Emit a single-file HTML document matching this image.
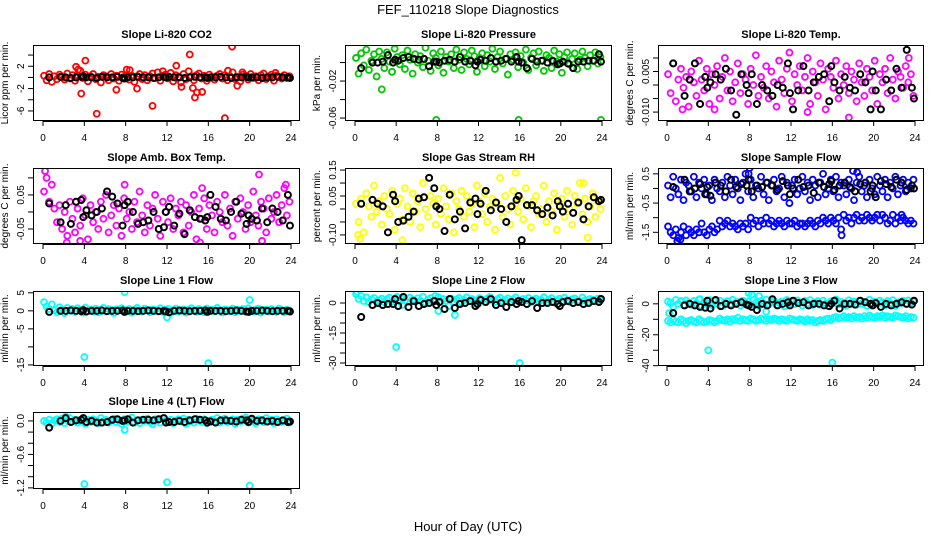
<!DOCTYPE html>
<html><head><meta charset="utf-8"><style>
html,body{margin:0;padding:0;background:#fff;}
svg{display:block;font-family:"Liberation Sans",sans-serif;}
</style></head><body>
<svg id="chart" width="936" height="540" viewBox="0 0 936 540" xmlns="http://www.w3.org/2000/svg">
<rect width="936" height="540" fill="#fff"/>
<text x="468" y="14" text-anchor="middle" font-size="13">FEF_110218  Slope Diagnostics</text>
<text x="468" y="531" text-anchor="middle" font-size="13">Hour of Day (UTC)</text>
</svg>
<script>
const hours = [0.1,0.35,0.6,0.85,1.1,1.35,1.6,1.85,2.1,2.35,2.6,2.85,3.1,3.35,3.6,3.85,4.1,4.35,4.6,4.85,5.1,5.35,5.6,5.85,6.1,6.35,6.6,6.85,7.1,7.35,7.6,7.85,8.1,8.35,8.6,8.85,9.1,9.35,9.6,9.85,10.1,10.35,10.6,10.85,11.1,11.35,11.6,11.85,12.1,12.35,12.6,12.85,13.1,13.35,13.6,13.85,14.1,14.35,14.6,14.85,15.1,15.35,15.6,15.85,16.1,16.35,16.6,16.85,17.1,17.35,17.6,17.85,18.1,18.35,18.6,18.85,19.1,19.35,19.6,19.85,20.1,20.35,20.6,20.85,21.1,21.35,21.6,21.85,22.1,22.35,22.6,22.85,23.1,23.35,23.6,23.85];
const blackHours = [0.6,1.7,2.2,2.7,3.2,3.7,3.9,4.2,4.7,5.2,5.7,6.2,6.7,7.2,7.7,7.9,8.2,8.7,9.2,9.7,10.2,10.7,11.2,11.7,11.9,12.2,12.7,13.2,13.7,14.2,14.7,15.2,15.7,15.9,16.2,16.7,17.2,17.7,18.2,18.7,19.2,19.7,19.9,20.2,20.7,21.2,21.7,22.2,22.7,23.2,23.7,23.9];
const xTicks = [0,4,8,12,16,20,24];

const co2Values = [0.3,-0.5,0.6,-0.8,0.2,-0.3,0.5,0.1,-0.4,0.7,-0.2,0.4,-0.6,0.3,1.2,-0.1,0.5,-0.7,0.2,0.6,-0.3,0.1,-0.9,0.4,0.2,-0.5,0.6,-0.2,0.3,-0.6,0.5,0.1,1.4,-0.4,0.3,-0.8,0.2,0.6,-0.3,0.4,-0.5,0.2,0.7,-0.1,0.9,-0.6,0.3,0.5,-0.2,0.8,-0.7,0.4,0.1,-0.9,0.6,-0.3,1.1,0.2,-0.5,0.4,0.7,-0.2,0.3,-0.6,0.5,0.1,-0.4,0.3,0.6,-0.2,0.4,-0.5,0.2,0.9,-0.3,0.1,-0.7,0.5,0.3,-0.4,0.6,-0.1,0.2,-0.5,0.4,0.7,-0.3,0.2,0.5,-0.6,0.3,0.1,-0.2,0.4,-0.1,0.2];
const co2OutHours = [3.2,3.4,3.7,4.1,5.2,7.1,8.4,9.1,10.6,11.6,12.9,13.4,14.2,14.5,14.7,14.9,15.4,17.6,17.9,18.3,18.8,19.3,22.5];
const co2OutValues = [1.9,1.4,-2.9,3.0,-6.5,-2.2,1.3,-2.0,-5.1,1.1,2.1,-1.7,4.1,-1.9,-3.6,-2.7,-2.6,-7.3,1.2,5.5,-1.5,0.9,0.8];
const co2Black = [0,0.1,0,-0.1,0,0.1,0.2,0,0,-0.1,0.1,0,0,0.1,-0.1,-0.2,0,0,0.1,0,0,-0.1,0,0.1,0,0.1,0,0,-0.1,0,0.1,0,0,-0.1,0,0,0.1,0,-0.1,0,0,0.1,0,0,0,-0.1,0,0,0.1,0,0,-0.1];

const presValues = [0.005,-0.012,0.010,-0.003,0.014,-0.008,0.002,0.009,-0.015,0.012,0.004,-0.006,0.011,0.001,-0.010,0.015,0.006,-0.002,0.008,-0.007,0.013,0.003,-0.012,0.009,0.000,0.007,-0.005,0.016,0.002,-0.009,0.010,0.005,-0.003,0.012,-0.011,0.006,0.001,0.009,-0.006,0.014,0.003,-0.008,0.011,0.004,-0.002,0.013,0.007,-0.010,0.005,0.010,-0.004,0.008,0.001,0.015,-0.007,0.006,0.012,-0.001,0.004,-0.013,0.009,0.003,0.011,-0.005,0.007,0.000,0.014,-0.008,0.005,0.010,-0.003,0.012,0.002,-0.009,0.008,0.005,-0.006,0.013,0.001,0.009,-0.011,0.006,0.011,-0.002,0.004,0.010,-0.007,0.003,0.012,0.005,-0.004,0.008,0.002,0.011,-0.001,0.006];
const presOutHours = [2.6,7.9,15.9,23.9];
const presOutValues = [-0.029,-0.062,-0.062,-0.062];
const presBlack = [-0.006,0,0,0.001,0.008,0,0.003,0.002,0.005,0.006,0.004,0.003,0.004,-0.004,0.001,0.001,0,0.002,0.003,0.001,0.006,0.001,0.002,-0.003,0.001,0.003,0.002,0.005,0.001,0.002,0.004,0.001,0.006,0.001,0,-0.006,0.004,0.001,0.002,0,0.002,-0.002,-0.001,0.001,-0.001,-0.006,0.001,0.001,0.002,0.002,0.009,0.001];

const tempValues = [0.004,-0.003,0.008,-0.006,0.002,0.006,-0.001,0.003,-0.008,0.005,0.001,-0.004,0.009,0.002,-0.002,0.006,-0.007,0.004,0.000,0.007,-0.005,0.003,0.010,-0.002,0.005,-0.006,0.001,0.008,-0.003,0.004,0.002,-0.007,0.006,0.000,0.011,-0.004,0.003,-0.001,0.007,-0.005,0.005,0.001,-0.008,0.009,0.002,-0.003,0.006,0.012,-0.006,0.004,0.000,0.007,-0.002,0.003,0.010,-0.007,0.005,0.001,-0.004,0.008,0.002,-0.009,0.006,0.003,-0.001,0.009,-0.005,0.004,0.000,0.007,-0.003,0.005,0.002,-0.006,0.008,0.001,-0.004,0.006,0.003,-0.002,0.009,-0.007,0.004,0.001,0.006,-0.003,0.010,0.002,-0.005,0.005,0.003,-0.001,0.007,0.001,0.004,-0.004];
const tempOutHours = [1.5,4.6,13.6,17.6,23.4];
const tempOutValues = [-0.009,-0.009,-0.010,-0.012,0.010];
const tempBlack = [0.008,-0.004,0.002,0.008,-0.007,0.003,-0.001,0.001,0.004,0.002,0.006,-0.002,-0.011,0.004,0,-0.003,0.004,-0.007,0,-0.002,-0.004,0,-0.001,0.008,-0.003,-0.009,-0.002,0.007,-0.002,0.001,0.003,0.004,-0.006,0.007,0.001,-0.002,0.003,-0.001,-0.002,0.004,0.001,-0.009,0.005,-0.002,-0.009,0.002,-0.002,0.006,-0.001,0.013,-0.001,-0.005];

const ambValues = [0.06,0.10,0.03,0.08,0.01,-0.03,0.02,-0.05,0.00,-0.07,0.03,-0.02,-0.06,0.01,-0.04,0.04,-0.01,-0.08,0.02,-0.03,0.00,-0.05,0.03,-0.02,0.05,-0.06,-0.01,0.02,-0.04,0.01,-0.07,0.04,-0.02,0.00,-0.05,0.03,-0.03,0.06,-0.01,-0.06,0.02,-0.04,0.01,0.05,-0.02,-0.07,0.03,0.00,-0.03,0.04,-0.05,0.01,-0.01,0.03,-0.06,0.02,-0.04,0.00,0.05,-0.08,0.01,-0.02,0.04,-0.05,0.02,-0.01,-0.06,0.03,0.00,-0.03,0.05,-0.04,0.01,-0.07,0.03,-0.02,0.04,0.00,-0.05,0.02,-0.03,0.06,-0.01,-0.04,0.03,0.01,-0.06,0.04,-0.02,0.00,0.05,-0.03,0.02,0.07,-0.01,0.03];
const ambOutHours = [0.2,7.9,15.4,20.9,23.5,2.3,3.6,15.2,21.2];
const ambOutValues = [0.12,0.08,0.07,0.11,0.08,-0.09,-0.085,-0.09,-0.085];
const ambBlack = [0.025,-0.03,0.02,-0.035,0.03,0.035,-0.015,0.005,-0.01,0,0.01,0.06,0.045,0.025,-0.04,0.02,0.03,0,-0.035,-0.03,-0.025,0,-0.05,-0.045,0,0.015,-0.04,-0.005,-0.065,0.005,-0.015,-0.02,-0.025,-0.015,0.05,0.015,-0.02,-0.025,0,0.03,-0.005,-0.035,-0.01,-0.02,-0.025,0.01,-0.03,0.01,0,-0.025,0.05,-0.04];

const rhValues = [0.02,-0.05,0.04,-0.09,0.06,0.01,-0.03,0.09,-0.01,0.03,-0.06,0.05,0.00,-0.02,0.07,-0.08,0.02,0.04,-0.04,0.08,0.01,-0.05,0.06,-0.01,0.03,-0.07,0.10,0.00,-0.03,0.05,0.02,-0.06,0.04,-0.02,0.08,0.01,-0.04,0.06,-0.09,0.03,0.00,0.07,-0.03,0.05,-0.01,0.02,-0.07,0.09,0.03,-0.02,0.06,-0.05,0.01,0.04,-0.08,0.02,0.12,-0.03,0.05,0.00,-0.06,0.07,0.02,-0.01,0.04,-0.04,0.08,0.01,-0.07,0.03,0.05,-0.02,0.00,0.09,-0.05,0.03,-0.01,0.06,-0.08,0.02,0.04,-0.03,0.07,0.00,-0.06,0.05,0.02,0.10,-0.02,0.04,-0.05,0.01,0.06,-0.03,0.03,0.00];
const rhOutHours = [0.3,0.5,4.6,15.6,22.2,22.6];
const rhOutValues = [-0.10,-0.115,-0.12,0.14,0.10,-0.11];
const rhBlack = [0.02,0.035,0.02,0.01,-0.09,0.055,0.03,-0.05,-0.045,-0.03,-0.01,0.04,0.045,0.12,0.08,0.01,0,-0.085,0.055,-0.04,-0.01,-0.075,0.025,0.04,-0.02,0.02,0.07,-0.005,0.025,0,-0.05,0.01,0.035,0.05,-0.12,0.015,0.015,-0.005,-0.02,0.005,-0.025,0.03,0.01,-0.01,0.02,-0.015,0.025,-0.04,0.01,0.045,0.03,0.035];

const flowUpper = [0.1,-0.3,0.4,0.0,-0.2,0.3,-0.4,0.2,0.1,-0.1,0.4,-0.3,0.2,0.0,0.3,-0.2,0.1,-0.4,0.3,0.0,-0.1,0.2,-0.3,0.4,0.1,-0.2,0.3,0.0,-0.4,0.2,0.5,-0.1,0.3,-0.3,0.1,0.0,0.4,-0.2,0.2,-0.4,0.1,0.3,-0.1,0.0,0.4,-0.3,0.2,-0.5,0.1,0.3,-0.2,0.0,0.4,-0.1,0.2,-0.4,0.3,0.1,-0.3,0.2,0.5,-0.2,0.0,0.3,-0.1,0.4,-0.3,0.2,0.1,-0.2,0.3,0.0,-0.4,0.2,0.4,-0.1,0.1,-0.3,0.3,0.0,-0.2,0.4,0.1,-0.1,0.3,-0.3,0.2,0.0,0.4,-0.2,0.1,0.3,-0.1,0.2,0.0,0.3];
const flowLower = [-1.3,-1.5,-1.6,-1.4,-1.7,-1.5,-1.3,-1.6,-1.4,-1.5,-1.6,-1.4,-1.5,-1.2,-1.5,-1.6,-1.4,-1.3,-1.5,-1.4,-1.1,-1.3,-1.2,-1.1,-1.3,-1.2,-1.3,-1.4,-1.2,-1.3,-1.2,-1.4,-1.0,-1.2,-1.1,-1.3,-1.1,-1.2,-1.0,-1.2,-1.1,-1.3,-1.2,-1.1,-1.2,-1.3,-1.1,-1.2,-1.2,-1.1,-1.3,-1.2,-1.2,-1.3,-1.2,-1.1,-1.2,-1.3,-1.1,-1.2,-1.0,-1.1,-1.2,-1.0,-1.1,-1.2,-1.0,-1.4,-0.9,-1.1,-1.0,-1.2,-1.0,-0.9,-1.1,-1.0,-1.1,-0.9,-1.0,-1.1,-1.0,-0.9,-1.1,-0.9,-1.0,-1.2,-1.1,-0.9,-1.2,-1.0,-1.1,-1.0,-1.1,-1.2,-1.1,-1.2];
const flowOutHours = [1.0,1.3,7.9,8.0,18.0,18.4,16.9,22.7];
const flowOutValues = [-1.8,-1.75,0.5,0.7,0.6,0.55,-1.6,-0.9];
const flowBlack = [0.05,0.3,-0.1,0,0.15,-0.2,0.05,-0.25,0.2,0.1,-0.1,0.3,0.05,0.15,0.1,0.3,-0.1,0.1,0.05,0.2,0.1,-0.05,0.25,0.1,-0.2,0,0.3,0.05,0.1,-0.15,0.2,0.05,0.15,0.25,-0.05,0.1,0.2,0.05,-0.1,0.15,0.2,-0.1,0.1,-0.3,0.25,0.15,0.05,0.3,0.2,-0.05,0.1,0];

const line1Values = [2.4,1.2,0.5,1.8,0.2,-0.4,1.0,0.3,-0.6,0.8,0.1,0.5,-0.3,0.7,0.2,-0.5,0.9,0.0,0.4,-0.2,0.6,-0.4,0.3,0.8,-0.1,0.5,0.2,-0.6,0.4,0.1,0.7,-0.3,0.2,0.5,-0.5,0.3,0.8,0.0,-0.2,0.6,0.1,-0.4,0.4,0.2,-0.1,0.7,-0.3,0.3,0.5,-0.6,0.2,0.6,-0.2,0.0,0.4,-0.5,0.3,0.7,0.1,-0.3,0.5,0.2,-0.4,0.6,0.0,0.3,-0.2,0.8,0.1,-0.5,0.4,0.2,-0.1,0.6,-0.4,0.3,0.0,0.5,-0.3,0.7,0.1,-0.2,0.4,0.6,-0.5,0.2,0.3,-0.1,0.5,0.0,-0.3,0.6,0.2,-0.4,0.3,0.1];
const line1OutHours = [4.0,7.9,12.0,16.0,20.0];
const line1OutValues = [-12.8,5.2,-1.8,-14.5,3.0];
const line1Black = [-0.3,0,0,0.1,0,-0.1,0.2,-0.2,0,0,0.1,-0.1,0,0,0.1,-0.3,0,0,-0.1,0,0.1,0,-0.1,0,-0.2,-0.4,0,0.1,0,-0.1,0,0,0.1,-0.3,0,0,0,-0.1,0,0.1,0,-0.2,-0.3,0,0,0.1,0,-0.1,0,0,0,-0.2];

const line2Values = [4.5,2.0,3.5,1.0,2.8,0.5,1.8,2.5,0.8,1.5,2.2,0.3,1.9,2.7,0.6,1.4,3.0,0.9,2.1,1.2,0.4,2.6,1.6,0.7,2.3,1.1,3.2,0.2,1.7,2.4,0.8,1.3,2.9,0.5,2.0,1.0,-1.5,2.2,0.6,1.8,2.5,0.3,1.5,2.8,0.9,2.0,1.2,0.4,2.4,1.6,0.7,2.1,3.0,1.1,0.5,1.9,2.6,0.8,1.4,2.3,0.2,1.7,2.8,1.0,0.6,2.0,1.3,2.5,0.4,1.8,2.2,0.9,1.5,2.9,0.3,1.6,2.4,0.7,1.2,2.1,0.8,2.6,1.4,0.5,1.9,2.3,1.0,0.6,2.7,1.3,0.4,2.0,1.6,0.8,2.2,1.1];
const line2OutHours = [4.0,16.0,7.8,8.1,9.7,4.6,0.2];
const line2OutValues = [-22,-30,3.5,-4,-6,-1,5.5];
const line2Black = [-7,-1,0,-1,-0.5,-0.5,2,-1.5,3,-2,1,-1.5,-0.5,0,1,-1,0.5,-3,2,-2.5,-0.5,0,1,-1.5,-0.5,1.5,0.5,2,-1,0,-2,0.5,-0.5,1,0.5,-0.5,1,-2.5,0,0,0.5,-0.5,-1.5,0.5,1,0,0.5,-0.5,0,1,0.5,2];

const line3Upper = [1.5,0.5,-2,2.5,0.0,1.8,-1.0,2.2,0.6,-0.5,1.9,0.3,2.8,-1.2,1.0,0.4,2.4,-0.8,1.6,0.0,2.1,-1.5,0.9,1.7,-0.3,2.6,0.5,1.2,-1.0,2.0,0.2,1.4,-0.6,2.3,0.8,-1.3,1.8,0.1,2.7,-0.4,1.1,2.0,-0.9,0.6,1.5,-1.6,2.5,0.3,1.3,-0.2,2.2,0.7,-1.1,1.9,0.4,2.4,-0.7,1.0,1.7,-0.5,2.1,0.2,-1.4,1.6,0.9,2.8,-0.3,1.2,0.5,-1.0,2.3,0.8,1.4,-0.6,2.0,0.1,1.1,-1.2,2.6,0.6,1.3,-0.4,2.1,0.9,-0.8,1.8,0.3,2.4,-1.3,1.0,0.5,1.9,-0.2,2.2,0.7,1.4];
const line3Lower = [-11,-12,-10.5,-11.5,-12,-10,-11,-12.5,-11,-10.5,-11.5,-12,-10,-11,-12,-11.5,-10.5,-11,-12,-11,-9.5,-10.5,-11,-10,-11.5,-10,-10.5,-9,-11,-10,-10.5,-11,-9.5,-10,-11,-10.5,-9.5,-10,-11,-10,-10.5,-9.5,-10,-11,-10,-10.5,-11,-9.5,-10,-10.5,-11,-10,-10.5,-11.5,-10,-11,-10.5,-12,-11,-10.5,-11,-10,-9.5,-10.5,-9,-8.5,-9.5,-9,-8,-9,-8.5,-9.5,-8,-9,-8.5,-9.5,-8,-9,-7.5,-8.5,-9,-8,-8.5,-7.5,-9,-8,-8.5,-9,-7.5,-8,-8.5,-9,-8,-9.5,-8.5,-9];
const line3OutHours = [4.0,16.0,0.2,7.9,8.2,8.9,9.6,3.2];
const line3OutValues = [-30,-38,-6,7,6,5,-5,3];
const line3Black = [-6,-1,0,-1,-2,-2.5,2,-3,2.5,-1.5,0,-1,0,1,-0.5,-1,-2,-4,0,-1,3,-1,0,1,-1,2,0.5,1,-1,0,0,-1,-1.5,0,2,-3,0,0,-0.5,2,1,0,-1,0.5,-2,0,-1,0,1,0,-0.5,2];

const line4Values = [0.00,-0.03,0.02,-0.05,0.01,0.03,-0.02,0.04,-0.04,0.01,0.05,-0.01,0.02,-0.03,0.00,0.04,-0.05,0.02,-0.02,0.03,0.01,-0.04,0.05,-0.01,0.02,-0.03,0.00,0.04,-0.02,0.01,-0.05,0.03,-0.01,0.02,0.06,-0.03,0.01,-0.04,0.02,0.00,0.04,-0.02,-0.06,0.03,0.01,-0.03,0.05,0.00,-0.02,0.02,-0.04,0.01,0.03,-0.01,0.04,-0.05,0.02,0.00,-0.03,0.04,0.01,-0.02,0.03,-0.04,0.00,0.02,-0.01,0.05,-0.03,0.01,0.04,-0.02,0.00,0.03,-0.05,0.02,-0.01,0.04,0.06,-0.03,0.02,0.00,-0.04,0.03,0.01,-0.02,0.05,-0.01,0.02,-0.04,0.03,0.00,-0.02,0.01,0.04,-0.03];
const line4OutHours = [4.0,12.0,20.0,7.9,2.2];
const line4OutValues = [-1.13,-1.1,-1.16,-0.16,0.08];
const line4Black = [-0.12,0,0.05,-0.02,0.01,0.02,0.05,-0.02,0,-0.03,-0.03,-0.02,0.02,0.03,0,0.01,0.03,-0.03,0.01,0.02,0.02,0.01,0.03,0.05,-0.03,-0.02,-0.02,0,-0.02,0.01,0.03,0.02,0.01,-0.03,-0.01,-0.03,0.01,0.01,0,-0.01,0.02,0.01,-0.02,0.04,0,0.01,-0.01,0,-0.02,0.01,-0.02,-0.01];

const NS = 'http://www.w3.org/2000/svg';
const svg = document.getElementById('chart');
function mk(tag, attrs, parent) {
  const e = document.createElementNS(NS, tag);
  for (const k in attrs) e.setAttribute(k, attrs[k]);
  (parent || svg).appendChild(e);
  return e;
}
const cols = [{l:33,r:300,x0:43,x24:291},{l:345,r:612,x0:355,x24:602},{l:658,r:924,x0:667,x24:915}];
const rows = [{t:45,b:121},{t:168,b:244},{t:291,b:366},{t:412,b:489}];

const panels = [
 {key:'co2',title:'Slope Li-820 CO2',ylab:'Licor ppm per min.',c:0,r:0,top:5.8,bot:-7.8,ticks:[4,2,0,-2,-4,-6],labels:{'2':'2','-2':'-2','-6':'-6'},color:'#ff0000',series:[co2Values],oh:co2OutHours,ov:co2OutValues,black:co2Black},
 {key:'pressure',title:'Slope Li-820 Pressure',ylab:'kPa per min.',c:1,r:0,top:0.019,bot:-0.0632,ticks:[0,-0.02,-0.04,-0.06],labels:{'-0.02':'-0.02','-0.06':'-0.06'},color:'#00c800',series:[presValues],oh:presOutHours,ov:presOutValues,black:presBlack},
 {key:'temp',title:'Slope Li-820 Temp.',ylab:'degrees C per min.',c:2,r:0,top:0.0148,bot:-0.0133,ticks:[0.01,0.005,0,-0.005,-0.01],labels:{'0.005':'0.005','-0.01':'-0.010'},color:'#ff00ff',series:[tempValues],oh:tempOutHours,ov:tempOutValues,black:tempBlack},
 {key:'amb',title:'Slope Amb. Box Temp.',ylab:'degrees C per min.',c:0,r:1,top:0.129,bot:-0.094,ticks:[0.1,0.05,0,-0.05],labels:{'0.05':'0.05','-0.05':'-0.05'},color:'#ff00ff',series:[ambValues],oh:ambOutHours,ov:ambOutValues,black:ambBlack},
 {key:'rh',title:'Slope Gas Stream RH',ylab:'percent per min.',c:1,r:1,top:0.158,bot:-0.135,ticks:[0.15,0.1,0.05,0,-0.05,-0.1],labels:{'0.15':'0.15','0.05':'0.05','-0.1':'-0.10'},color:'#ffff00',series:[rhValues],oh:rhOutHours,ov:rhOutValues,black:rhBlack},
 {key:'sample-flow',title:'Slope Sample Flow',ylab:'ml/min per min.',c:2,r:1,top:0.7,bot:-1.9,ticks:[0.5,0,-0.5,-1,-1.5],labels:{'0.5':'0.5','-0.5':'-0.5','-1.5':'-1.5'},color:'#0000ff',series:[flowUpper,flowLower],oh:flowOutHours,ov:flowOutValues,black:flowBlack},
 {key:'line1',title:'Slope Line 1 Flow',ylab:'ml/min per min.',c:0,r:2,top:5.5,bot:-15.3,ticks:[5,0,-5,-10,-15],labels:{'5':'5','0':'0','-5':'-5','-15':'-15'},color:'#00ffff',series:[line1Values],oh:line1OutHours,ov:line1OutValues,black:line1Black},
 {key:'line2',title:'Slope Line 2 Flow',ylab:'ml/min per min.',c:1,r:2,top:6,bot:-31.5,ticks:[0,-5,-10,-15,-20,-25,-30],labels:{'0':'0','-15':'-15','-30':'-30'},color:'#00ffff',series:[line2Values],oh:line2OutHours,ov:line2OutValues,black:line2Black},
 {key:'line3',title:'Slope Line 3 Flow',ylab:'ml/min per min.',c:2,r:2,top:8.3,bot:-40.2,ticks:[0,-10,-20,-30,-40],labels:{'0':'0','-20':'-20','-40':'-40'},color:'#00ffff',series:[line3Upper,line3Lower],oh:line3OutHours,ov:line3OutValues,black:line3Black},
 {key:'line4',title:'Slope Line 4 (LT) Flow',ylab:'ml/min per min.',c:0,r:3,top:0.16,bot:-1.22,ticks:[0,-0.2,-0.4,-0.6,-0.8,-1,-1.2],labels:{'0':'0.0','-0.6':'-0.6','-1.2':'-1.2'},color:'#00ffff',series:[line4Values],oh:line4OutHours,ov:line4OutValues,black:line4Black}
];

panels.forEach(p => {
  const C = cols[p.c], R = rows[p.r];
  const xs = h => C.x0 + (h / 24) * (C.x24 - C.x0);
  const ys = v => R.t + (p.top - v) / (p.top - p.bot) * (R.b - R.t);
  const g = mk('g', {});
  
  
  const clipId = 'clip-' + p.key;
  const cp = mk('clipPath', {id: clipId}, g);
  mk('rect', {x: C.l, y: R.t, width: C.r - C.l, height: R.b - R.t}, cp);
  const title = mk('text', {x: (C.l + C.r) / 2, y: R.t - 7, 'text-anchor': 'middle', 'font-size': 11, 'font-weight': 'bold'}, g);
  
  
  title.textContent = p.title;
  const yl = mk('text', {transform: `translate(${C.l - 25},${(R.t + R.b) / 2}) rotate(-90)`, 'text-anchor': 'middle', 'font-size': 10}, g);
  
  
  yl.textContent = p.ylab;
  const pts = mk('g', {'clip-path': `url(#${clipId})`, fill: 'none', 'stroke-width': 1.8}, g);
  
  
  p.series.forEach(vals => {
    vals.forEach((v, i) => {
      const c = mk('circle', {cx: xs(hours[i]), cy: ys(v), r: 3, stroke: p.color}, pts);
      
      
    });
  });
  p.ov.forEach((v, i) => {
    const c = mk('circle', {cx: xs(p.oh[i]), cy: ys(v), r: 3, stroke: p.color}, pts);
    
    
  });
  p.black.forEach((v, i) => {
    const c = mk('circle', {cx: xs(blackHours[i]), cy: ys(v), r: 3, stroke: '#000', 'stroke-width': 2}, pts);
    
    
  });
  const box = mk('rect', {x: C.l + 0.5, y: R.t + 0.5, width: C.r - C.l - 1, height: R.b - R.t - 1, fill: 'none', stroke: '#000', 'stroke-width': 1}, g);
  
  
  const xa = mk('g', {}, g);
  
  
  mk('line', {x1: xs(0), x2: xs(24), y1: R.b + 0.5, y2: R.b + 0.5, stroke: '#000'}, xa);
  xTicks.forEach(t => {
    mk('line', {x1: xs(t), x2: xs(t), y1: R.b, y2: R.b + 5, stroke: '#000'}, xa);
    const tx = mk('text', {x: xs(t), y: R.b + 20, 'text-anchor': 'middle', 'font-size': 10}, xa);
    
    
    tx.textContent = String(t);
  });
  const ya = mk('g', {}, g);
  
  
  const yFirst = ys(p.ticks[0]), yLast = ys(p.ticks[p.ticks.length - 1]);
  mk('line', {x1: C.l + 0.5, x2: C.l + 0.5, y1: yFirst, y2: yLast, stroke: '#000'}, ya);
  p.ticks.forEach(t => {
    mk('line', {x1: C.l - 5, x2: C.l, y1: ys(t), y2: ys(t), stroke: '#000'}, ya);
    const lab = p.labels[String(t)];
    if (lab !== undefined) {
      const tx = mk('text', {transform: `translate(${C.l - 9},${ys(t)}) rotate(-90)`, 'text-anchor': 'middle', 'font-size': 10}, ya);
      
      
      tx.textContent = lab;
    }
  });
});
</script>
</body></html>
